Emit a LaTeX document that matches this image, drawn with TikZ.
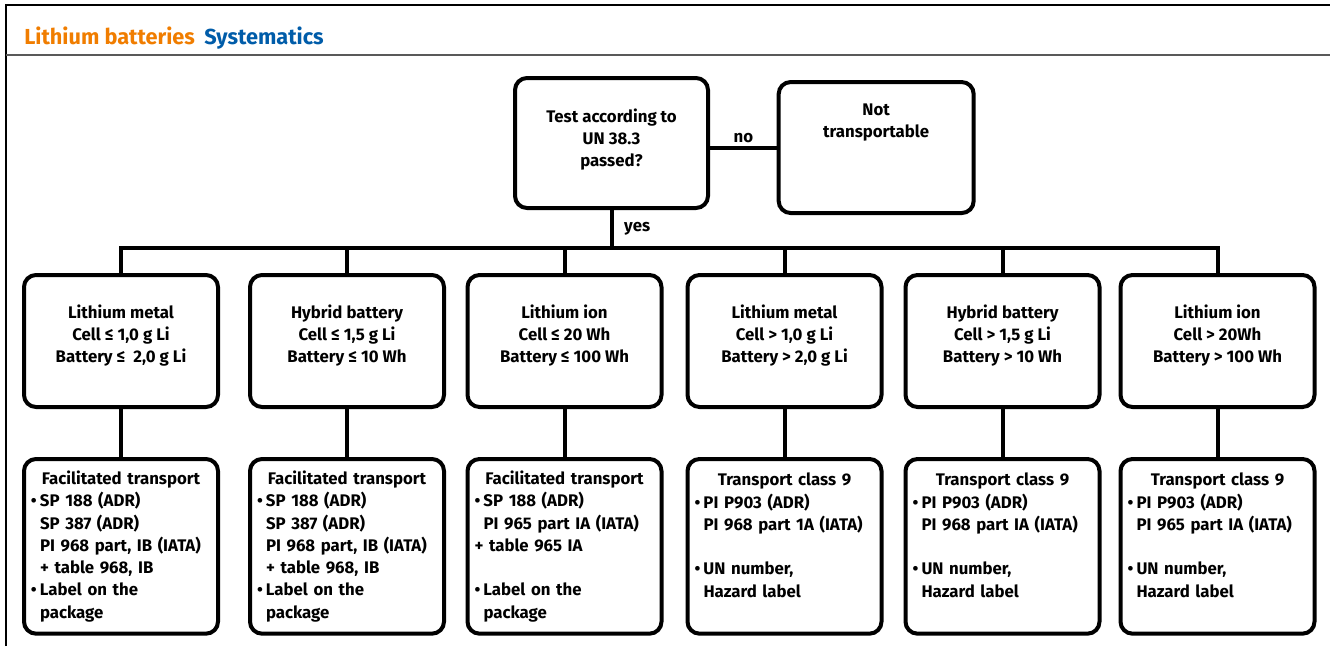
\documentclass[tikz,border=0pt]{standalone}
\usepackage{fontspec}
\setmainfont{Fira Sans}
\usetikzlibrary{positioning}

\definecolor{titleorange}{RGB}{240,125,0}
\definecolor{titleblue}{RGB}{0,92,169}
\newcommand\bul{\makebox[6.75pt][l]{\textbullet}}
\newcommand\ind{\hspace*{6.75pt}}
\newcommand\hd[1]{\hspace*{\fill}#1\hspace*{\fill}\mbox{}}

\tikzset{
  box/.style={draw, line width=3pt, rounded corners=9pt, align=center,
    font=\bfseries\fontsize{12.6pt}{16.7pt}\selectfont},
  catbox/.style={box, minimum width=145.5pt, minimum height=99pt},
  rulebox/.style={box, minimum width=145.5pt, minimum height=131pt,
    text width=135pt, inner xsep=5pt, align=left},
  link/.style={line width=3pt},
  lbl/.style={font=\bfseries\fontsize{12.6pt}{16.7pt}\selectfont, inner sep=2pt}
}

\begin{document}
\begin{tikzpicture}[x=0.75pt,y=-0.75pt]
\useasboundingbox (0,0) rectangle (1330,646);
\draw[line width=1.1pt] (6,646) -- (6,5) -- (1330,5);
\draw[black!65, line width=0.8pt] (6,55) -- (1330,55);
\node[anchor=base west, inner sep=0pt, font=\bfseries\fontsize{16.3pt}{20pt}\selectfont] (title) at (24,44)
  {\textcolor{titleorange}{Lithium batteries}\hspace{7pt}\textcolor{titleblue}{Systematics}};

\node[box, minimum width=144.75pt, minimum height=97.5pt] (test) at (611.5,143)
  {Test according to\\UN 38.3\\passed?\\[-9pt]\mbox{}};
\node[box, minimum width=146.25pt, minimum height=98.25pt, right=50pt of test, yshift=-3.4pt] (nottr)
  {Not\\transportable\\\mbox{}\\[6.75pt]\mbox{}};
\coordinate (bus) at (611.5,248);

\node[catbox] (metalA) at (121,341) {Lithium metal\\Cell ≤ 1,0 g Li\\Battery ≤~ 2,0 g Li\\[-6pt]\mbox{}};
\node[catbox] (hybridA) at (347,341) {Hybrid battery\\Cell ≤ 1,5 g Li\\Battery ≤ 10 Wh\\[-6pt]\mbox{}};
\node[catbox] (ionA) at (564.5,341) {Lithium ion\\Cell ≤ 20 Wh\\Battery ≤ 100 Wh\\[-6pt]\mbox{}};
\node[catbox] (metalB) at (784.5,341) {Lithium metal\\Cell > 1,0 g Li\\Battery > 2,0 g Li\\[-6pt]\mbox{}};
\node[catbox] (hybridB) at (1002.5,341) {Hybrid battery\\Cell > 1,5 g Li\\Battery > 10 Wh\\[-6pt]\mbox{}};
\node[catbox] (ionB) at (1217.5,341) {Lithium ion\\Cell > 20Wh\\Battery > 100 Wh\\[-6pt]\mbox{}};

\node[rulebox, below=36pt of metalA] (ruleA)
  {\hd{Facilitated transport}\\ \bul SP 188 (ADR)\\ \ind SP 387 (ADR)\\ \ind PI 968 part, IB (IATA)\\
   \ind + table 968, IB\\ \bul Label on the\\ \ind package};
\node[rulebox, below=36pt of hybridA] (ruleB)
  {\hd{Facilitated transport}\\ \bul SP 188 (ADR)\\ \ind SP 387 (ADR)\\ \ind PI 968 part, IB (IATA)\\
   \ind + table 968, IB\\ \bul Label on the\\ \ind package};
\node[rulebox, below=36pt of ionA] (ruleC)
  {\hd{Facilitated transport}\\ \bul SP 188 (ADR)\\ \ind PI 965 part IA (IATA)\\ + table 965 IA\\
   \mbox{}\\ \bul Label on the\\ \ind package};
\node[rulebox, below=36pt of metalB] (ruleD)
  {\hd{Transport class 9}\\ \bul PI P903 (ADR)\\ \ind PI 968 part 1A (IATA)\\ \mbox{}\\
   \bul UN number,\\ \ind Hazard label\\ \mbox{}};
\node[rulebox, below=36pt of hybridB] (ruleE)
  {\hd{Transport class 9}\\ \bul PI P903 (ADR)\\ \ind PI 968 part IA (IATA)\\ \mbox{}\\
   \bul UN number,\\ \ind Hazard label\\ \mbox{}};
\node[rulebox, below=36pt of ionB] (ruleF)
  {\hd{Transport class 9}\\ \bul PI P903 (ADR)\\ \ind PI 965 part IA (IATA)\\ \mbox{}\\
   \bul UN number,\\ \ind Hazard label\\ \mbox{}};

\draw[link] (test.east |- nottr) -- node[lbl, above]{no} (nottr);
\draw[link] (test) -- node[lbl, right, xshift=6pt]{yes} (bus);
\draw[link] (metalA.north) -- (metalA.north |- bus) -- (ionB.north |- bus) -- (ionB.north);
\draw[link] (hybridA.north) -- (hybridA.north |- bus)
  (ionA.north) -- (ionA.north |- bus)
  (metalB.north) -- (metalB.north |- bus)
  (hybridB.north) -- (hybridB.north |- bus);
\draw[link] (metalA) -- (ruleA) (hybridA) -- (ruleB) (ionA) -- (ruleC)
  (metalB) -- (ruleD) (hybridB) -- (ruleE) (ionB) -- (ruleF);
\end{tikzpicture}
\end{document}
